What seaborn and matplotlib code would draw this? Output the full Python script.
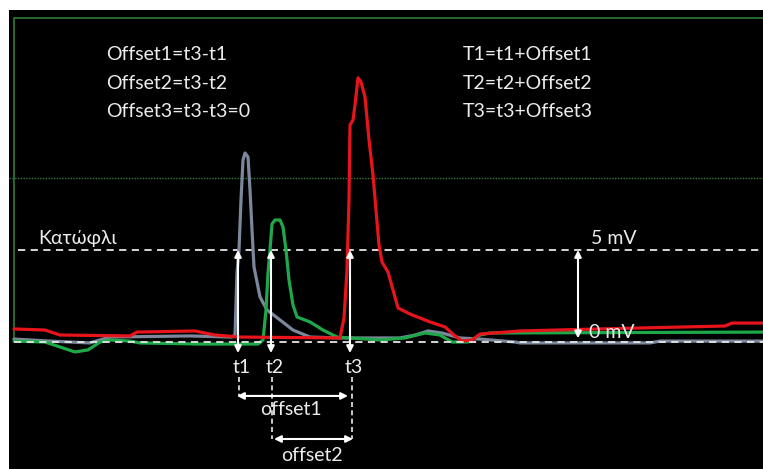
import numpy as np
import pandas as pd
import matplotlib
matplotlib.use("Agg")
import matplotlib.pyplot as plt
import seaborn as sns

# ---- data (time in samples, amplitude in mV) ----
grey_t = [14, 50, 90, 110, 190, 232, 235, 237, 239, 241, 243, 245, 248, 250, 252, 254, 260, 267,
          280, 293, 310, 340, 400, 415, 428, 442, 460, 480, 515, 520, 650, 660, 763]
grey_mv = [0.16, 0.05, -0.05, 0.27, 0.33, 0.27, 0.38, 3.75, 5.0, 7.72, 9.89, 10.27, 10.05, 8.26,
           6.09, 4.08, 2.45, 1.74, 1.2, 0.65, 0.27, 0.22, 0.22, 0.38, 0.6, 0.49, 0.22, 0.16, 0.0,
           -0.05, -0.05, 0.05, 0.05]

green_t = [14, 45, 60, 75, 88, 100, 110, 130, 140, 200, 258, 263, 266, 268, 270, 272, 275, 280,
           283, 286, 289, 293, 297, 310, 323, 337, 350, 380, 405, 425, 440, 452, 468, 480, 490, 763]
green_mv = [0.05, 0.0, -0.27, -0.54, -0.43, 0.0, 0.11, 0.05, -0.05, -0.11, -0.11, 0.11, 1.74,
            3.75, 5.0, 6.41, 6.63, 6.63, 6.25, 5.0, 3.37, 2.01, 1.36, 1.09, 0.65, 0.27, 0.22,
            0.11, 0.22, 0.49, 0.38, 0.0, 0.0, 0.38, 0.49, 0.54]

red_t = [14, 45, 60, 130, 137, 195, 215, 240, 340, 344, 347, 349, 350, 353, 355, 358, 361, 365,
         369, 373, 376, 379, 382, 388, 398, 410, 430, 445, 455, 462, 472, 480, 520, 600, 725, 732, 763]
red_mv = [0.71, 0.65, 0.38, 0.33, 0.54, 0.6, 0.38, 0.27, 0.22, 1.3, 3.91, 7.72, 11.79, 12.07,
          12.88, 14.35, 14.13, 13.32, 10.98, 9.08, 7.17, 5.27, 4.35, 3.8, 1.85, 1.52, 1.09, 0.82,
          0.33, 0.05, 0.11, 0.43, 0.6, 0.71, 0.87, 1.03, 1.03]

threshold_mv = 5.0
t_cross = [238, 271, 350]          # threshold crossing times t1, t2, t3
t_labels = ["t1", "t2", "t3"]
offset_labels = ["offset1", "offset2"]
left_texts = ["Offset1=t3-t1", "Offset2=t3-t2", "Offset3=t3-t3=0"]
right_texts = ["T1=t1+Offset1", "T2=t2+Offset2", "T3=t3+Offset3"]
threshold_label = "Κατώφλι"
level_labels = ["5 mV", "0 mV"]

df = pd.concat([
    pd.DataFrame({"t": grey_t, "mV": grey_mv, "ch": "grey"}),
    pd.DataFrame({"t": green_t, "mV": green_mv, "ch": "green"}),
    pd.DataFrame({"t": red_t, "mV": red_mv, "ch": "red"}),
])

sns.set_theme(style="dark")
plt.rcParams["font.family"] = ["Lato", "Open Sans", "DejaVu Sans"]

fig = plt.figure(figsize=(7.63, 4.69), dpi=100, facecolor="white")
ax = fig.add_axes([9 / 763, 0, 754 / 763, 459 / 469])
ax.set_facecolor("black")
ax.set_xlim(9, 763)
ax.set_ylim(-6.90, 18.04)
for s in ax.spines.values():
    s.set_visible(False)
ax.set_xticks([])
ax.set_yticks([])
ax.grid(False)

BOX = "#2f7a3c"
# green frame
ax.plot([14, 14, 763], [0.1, 17.6, 17.6], color=BOX, lw=1.2, zorder=1)
ax.axhline(8.9, color=BOX, lw=1.0, ls=(0, (1, 1)), zorder=1)

# white dashed reference lines
ax.hlines(threshold_mv, 18, 763, color="#e6e6e6", lw=1.3, ls=(0, (4, 3)), zorder=2)
ax.hlines(0, 14, 763, color="#e6e6e6", lw=1.3, ls=(0, (4, 3)), zorder=4)

palette = {"grey": "#7c879c", "green": "#1fa84a", "red": "#e8141c"}
sns.lineplot(data=df, x="t", y="mV", hue="ch", palette=palette, estimator=None, sort=False,
             lw=2.3, legend=False, ax=ax, zorder=3)
for ln in ax.get_lines()[-3:]:
    ln.set_solid_joinstyle("round")
    ln.set_solid_capstyle("round")
ax.set_xlabel("")
ax.set_ylabel("")

TXT = "#ececec"
FS = 14
arrow_kw = dict(arrowstyle="<|-|>", color="white", lw=1.5, mutation_scale=10, shrinkA=0, shrinkB=0)

# threshold crossing arrows and labels
for tc, lab in zip(t_cross, t_labels):
    ax.annotate("", xy=(tc, threshold_mv), xytext=(tc, -0.6), arrowprops=arrow_kw, zorder=5)
    ax.text(tc + 4, -1.36, lab, color=TXT, fontsize=FS, ha="center", va="center")

# dashed guides to offset arrows
ax.vlines(t_cross[0] + 1, -1.9, -2.93, color=TXT, lw=1.2, ls=(0, (3, 2)))
ax.vlines(t_cross[1] + 1, -1.9, -5.27, color=TXT, lw=1.2, ls=(0, (3, 2)))
ax.vlines(t_cross[2] + 2, -1.9, -5.27, color=TXT, lw=1.2, ls=(0, (3, 2)))

ax.annotate("", xy=(t_cross[2] - 2, -2.93), xytext=(t_cross[0] - 1, -2.93), arrowprops=arrow_kw)
ax.annotate("", xy=(t_cross[2] + 3, -5.27), xytext=(t_cross[1] + 3, -5.27), arrowprops=arrow_kw)
ax.text(291, -3.64, offset_labels[0], color=TXT, fontsize=FS, ha="center", va="center")
ax.text(312, -6.14, offset_labels[1], color=TXT, fontsize=FS, ha="center", va="center")

# 0-5 mV arrow
ax.annotate("", xy=(578, threshold_mv), xytext=(578, 0.2), arrowprops=arrow_kw, zorder=5)
ax.text(591, 5.65, level_labels[0], color=TXT, fontsize=FS, ha="left", va="center")
ax.text(589, 0.54, level_labels[1], color=TXT, fontsize=FS, ha="left", va="center", zorder=6)

ax.text(38, 5.65, threshold_label, color=TXT, fontsize=FS, ha="left", va="center")

for i, (lt, rt) in enumerate(zip(left_texts, right_texts)):
    y = 15.6 - i * 1.55
    ax.text(106, y, lt, color=TXT, fontsize=FS, ha="left", va="center")
    ax.text(463, y, rt, color=TXT, fontsize=FS, ha="left", va="center")

fig.savefig("out.png", dpi=100, facecolor="white")
